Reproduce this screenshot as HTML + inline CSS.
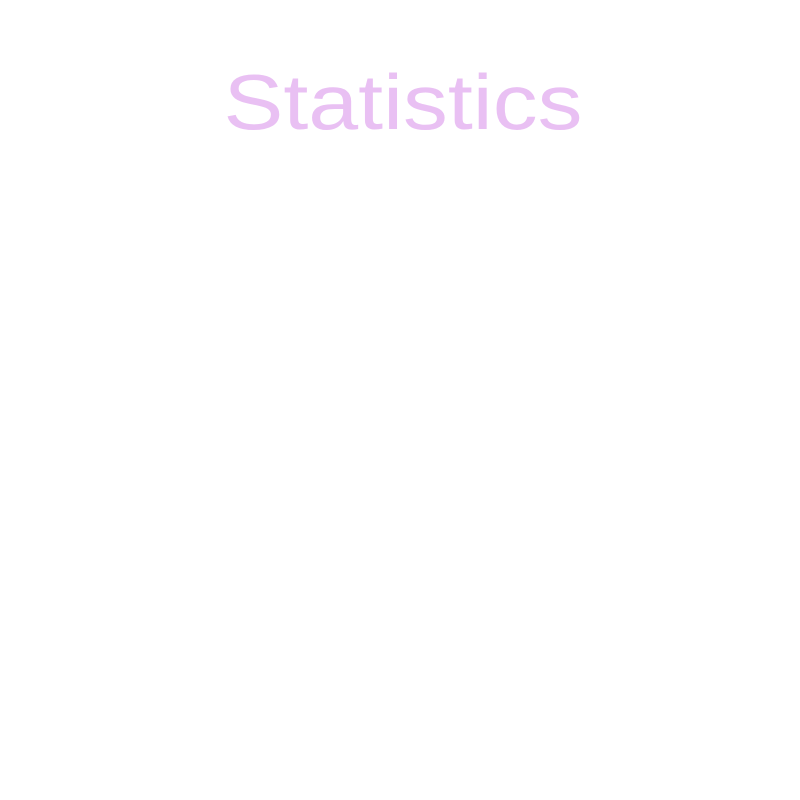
<!DOCTYPE html>
<html>
<head>
<meta charset="utf-8">
<style>
  html, body { margin: 0; padding: 0; background: #ffffff; }
  #chart { position: relative; width: 800px; height: 800px; background: #ffffff; overflow: hidden; }
  #chart-title {
    position: absolute;
    left: 0; width: 806px;
    top: 52px;
    text-align: center;
    font-family: "Liberation Sans", sans-serif;
    font-size: 78px;
    line-height: 100px;
    color: #e9c0f3;
    transform: scaleX(1.15);
    transform-origin: 403px 50%;
    white-space: nowrap;
  }
</style>
</head>
<body>
<div id="chart">
  <div id="chart-title">Statistics</div>
</div>
</body>
</html>
